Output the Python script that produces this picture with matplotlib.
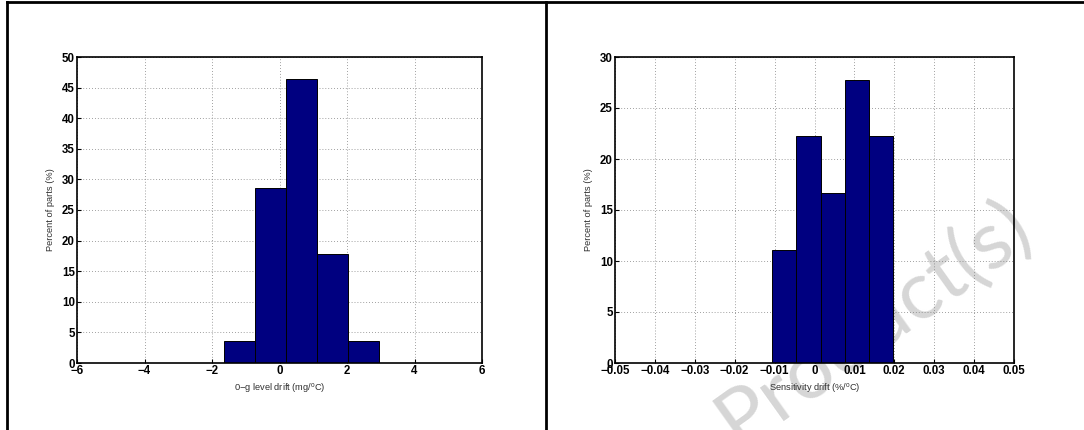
import numpy as np
import matplotlib
matplotlib.use('Agg')
import matplotlib.pyplot as plt
from matplotlib.lines import Line2D

plt.rcParams['font.family'] = ['Liberation Sans', 'DejaVu Sans']
plt.rcParams['mathtext.fontset'] = 'custom'
plt.rcParams['mathtext.rm'] = 'Liberation Sans'
plt.rcParams['mathtext.default'] = 'regular'

# histogram data (bin centres and percent of parts)
zero_g_centers = [-1.18, -0.26, 0.65, 1.57, 2.49]
zero_g_percent = [3.57, 28.57, 46.43, 17.86, 3.57]
zero_g_ticks = [-6, -4, -2, 0, 2, 4, 6]
zero_g_yticks = [0, 5, 10, 15, 20, 25, 30, 35, 40, 45, 50]

sens_centers = [-0.0076, -0.0015, 0.00455, 0.0106, 0.0167]
sens_percent = [11.11, 22.22, 16.67, 27.78, 22.22]
sens_ticks = [-0.05, -0.04, -0.03, -0.02, -0.01, 0, 0.01, 0.02, 0.03, 0.04, 0.05]
sens_yticks = [0, 5, 10, 15, 20, 25, 30]

W, H = 1084, 430


def draw_hist(ax, centers, percent, xticks, yticks, xlabel):
    centers = np.asarray(centers)
    width = np.mean(np.diff(centers))
    ax.set_facecolor('none')
    ax.bar(centers, percent, width=width, color='#000080',
           edgecolor='black', linewidth=0.7, zorder=2)
    ax.set_xlim(xticks[0], xticks[-1])
    ax.set_ylim(yticks[0], yticks[-1])
    ax.set_xticks(xticks)
    ax.set_yticks(yticks)
    ax.set_xticklabels(['0' if t == 0 else ('%g' % t).replace('-', '\u2212')
                        for t in xticks])
    ax.grid(True, linestyle=(0, (1, 2.5)), color='#808080', linewidth=0.6,
            zorder=1)
    ax.set_axisbelow(True)
    ax.tick_params(direction='in', length=3, width=0.8, labelsize=8.3,
                   pad=1.5, top=False, right=False)
    for lab in ax.get_xticklabels() + ax.get_yticklabels():
        lab.set_fontweight('bold')
    for sp in ax.spines.values():
        sp.set_linewidth(1.2)
    ax.set_xlabel(xlabel, fontsize=6.7, color='#303030', labelpad=3)
    ax.set_ylabel('Percent of parts (%)', fontsize=6.7, color='#303030',
                  labelpad=5)


fig = plt.figure(figsize=(W / 100, H / 100), dpi=100)

ax1 = fig.add_axes([77 / W, 1 - 363 / H, (482 - 77) / W, (363 - 57) / H])
draw_hist(ax1, zero_g_centers, zero_g_percent, zero_g_ticks, zero_g_yticks,
          '0\u2212g level drift (mg/$^{o}$C)')

ax2 = fig.add_axes([615 / W, 1 - 363 / H, (1014 - 615) / W, (363 - 57) / H])
draw_hist(ax2, sens_centers, sens_percent, sens_ticks, sens_yticks,
          'Sensitivity drift (%/$^{o}$C)')

# watermark behind the axes
fig.text(874 / W, 1 - 323 / H, 'Product(s)', fontsize=59, color='#d6d6d6',
         family=['Lato', 'Liberation Sans'], fontweight='normal',
         rotation=35.5, ha='center', va='center', zorder=-1)

# page frame lines
for xs, ys in [([6.5 / W, 1], [1 - 1.5 / H, 1 - 1.5 / H]),
               ([6.5 / W, 6.5 / W], [0, 1 - 1.5 / H]),
               ([545.5 / W, 545.5 / W], [0, 1 - 1.5 / H])]:
    fig.add_artist(Line2D(xs, ys, transform=fig.transFigure, color='black',
                          linewidth=2))

fig.savefig('out.png', dpi=100)
